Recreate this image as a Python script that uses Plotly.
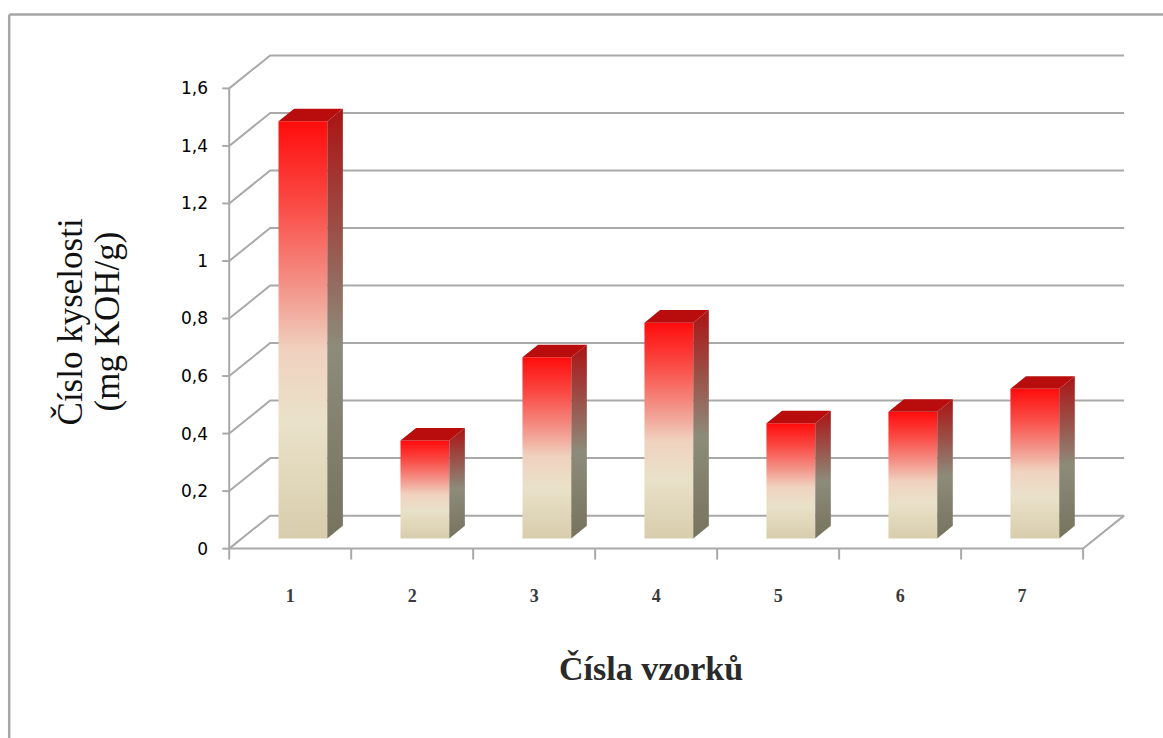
import plotly.graph_objects as go

# ---- data -------------------------------------------------------------
samples = ["1", "2", "3", "4", "5", "6", "7"]
acid_number = [1.45, 0.34, 0.63, 0.75, 0.40, 0.44, 0.52]
y_ticks = [0, 0.2, 0.4, 0.6, 0.8, 1.0, 1.2, 1.4, 1.6]
y_ticktext = ["0", "0,2", "0,4", "0,6", "0,8", "1", "1,2", "1,4", "1,6"]

y_title_lines = ["Číslo kyselosti", "(mg KOH/g)"]
x_title = "Čísla vzorků"

# ---- oblique projection of the 3-D box (axis units) ------------------
DEPTH_X = 0.336      # horizontal shift of the back wall
DEPTH_Y = 0.1147     # vertical shift of the back wall
BAR_W = 0.40         # bar width as share of a category
BAR_FRONT = 0.31     # depth fraction where bar front faces sit
BAR_DEPTH = 0.38     # depth fraction occupied by a bar

GRID = "#a9a9a9"
FRONT_SCALE = [[0.0, "#d8cdac"], [0.28, "#e9e1c9"], [0.45, "#f0d2bf"],
               [0.6, "#f3958a"], [0.8, "#fa4b45"], [1.0, "#ff0c0c"]]
SIDE_SCALE = [[0.0, "#76735e"], [0.45, "#8d8b7a"], [0.72, "#9b4f47"],
              [1.0, "#aa1414"]]
TOP_COLOR = "#b90d0d"

n = len(samples)
ymax = y_ticks[-1]

# ---- canvas geometry ----------------------------------------------------
W, H = 1163, 738
X_RANGE = [-0.1, 7.45]
Y_RANGE = [-0.05, 1.73]
PX_X = 122.0
PX_Y = 287.8
M_L = 229 - (0 - X_RANGE[0]) * PX_X
M_T = 548.5 - Y_RANGE[1] * PX_Y
PLOT_W = (X_RANGE[1] - X_RANGE[0]) * PX_X
PLOT_H = (Y_RANGE[1] - Y_RANGE[0]) * PX_Y
M_R = W - M_L - PLOT_W
M_B = H - M_T - PLOT_H


def paper_x(px):
    return (px - M_L) / PLOT_W


def paper_y(py):
    return (M_T + PLOT_H - py) / PLOT_H


fig = go.Figure()


def add_line(xs, ys, color=GRID, width=2):
    fig.add_trace(go.Scatter(x=xs, y=ys, mode="lines",
                             line=dict(color=color, width=width),
                             hoverinfo="skip", showlegend=False))


# back wall and left wall gridlines
for v in y_ticks:
    add_line([0, DEPTH_X, n + DEPTH_X], [v, v + DEPTH_Y, v + DEPTH_Y])
# floor outline
add_line([n + DEPTH_X, n, 0], [DEPTH_Y, 0, 0])
# front value axis
add_line([0, 0], [0, ymax])
# value-axis tick marks
for v in y_ticks:
    add_line([-0.057, 0], [v, v])
# category-axis tick marks
for k in range(n + 1):
    add_line([k, k], [0, -0.038])

# ---- 3-D bars -----------------------------------------------------------
ox = BAR_DEPTH * DEPTH_X
oy = BAR_DEPTH * DEPTH_Y
for i, v in enumerate(acid_number):
    c = i + 0.5
    x0 = c - BAR_W / 2 + BAR_FRONT * DEPTH_X
    x1 = c + BAR_W / 2 + BAR_FRONT * DEPTH_X
    yb = BAR_FRONT * DEPTH_Y
    yt = yb + v
    no_line = dict(width=0, color="rgba(0,0,0,0)")
    # front face
    fig.add_trace(go.Scatter(
        x=[x0, x1, x1, x0, x0], y=[yb, yb, yt, yt, yb],
        mode="lines", fill="toself", line=no_line,
        fillgradient=dict(type="vertical", colorscale=FRONT_SCALE,
                          start=yb, stop=yt),
        hoverinfo="skip", showlegend=False))
    # right side face
    fig.add_trace(go.Scatter(
        x=[x1, x1 + ox, x1 + ox, x1, x1],
        y=[yb, yb + oy, yt + oy, yt, yb],
        mode="lines", fill="toself", line=no_line,
        fillgradient=dict(type="vertical", colorscale=SIDE_SCALE,
                          start=yb, stop=yt + oy),
        hoverinfo="skip", showlegend=False))
    # top face
    fig.add_trace(go.Scatter(
        x=[x0, x1, x1 + ox, x0 + ox, x0],
        y=[yt, yt, yt + oy, yt + oy, yt],
        mode="lines", fill="toself", line=no_line,
        fillcolor=TOP_COLOR, hoverinfo="skip", showlegend=False))

# ---- layout -------------------------------------------------------------
fig.update_layout(
    width=W, height=H,
    margin=dict(l=M_L, r=M_R, t=M_T, b=M_B, pad=0),
    paper_bgcolor="white", plot_bgcolor="white",
    showlegend=False,
    xaxis=dict(range=X_RANGE, showgrid=False, zeroline=False, showline=False,
               tickmode="array", tickvals=[i + 0.5 for i in range(n)],
               ticktext=samples, ticks="", ticklabelstandoff=20,
               tickfont=dict(family="Liberation Serif", size=18,
                             color="#3a3a3a", weight="bold")),
    yaxis=dict(range=Y_RANGE, showgrid=False, zeroline=False, showline=False,
               tickmode="array", tickvals=y_ticks, ticktext=y_ticktext,
               ticks="", ticklabelstandoff=8,
               tickfont=dict(family="DejaVu Sans", size=17,
                             color="#000000")),
    shapes=[
        dict(type="line", xref="paper", yref="paper",
             x0=paper_x(9), x1=paper_x(1163), y0=paper_y(14), y1=paper_y(14),
             line=dict(color="#a6a6a6", width=2.5)),
        dict(type="line", xref="paper", yref="paper",
             x0=paper_x(9), x1=paper_x(9), y0=paper_y(14), y1=paper_y(738),
             line=dict(color="#a6a6a6", width=2.5)),
    ],
    annotations=[
        dict(text=y_title_lines[0], xref="paper", yref="paper",
             x=paper_x(70), y=paper_y(322), xanchor="center", yanchor="middle",
             textangle=-90, showarrow=False,
             font=dict(family="Liberation Serif", size=35, color="#111")),
        dict(text=y_title_lines[1], xref="paper", yref="paper",
             x=paper_x(107), y=paper_y(321), xanchor="center", yanchor="middle",
             textangle=-90, showarrow=False,
             font=dict(family="Liberation Serif", size=35, color="#111")),
        dict(text=x_title, xref="paper", yref="paper",
             x=paper_x(651), y=paper_y(668), xanchor="center", yanchor="middle",
             showarrow=False,
             font=dict(family="Liberation Serif", size=34, color="#2a2a2a",
                       weight="bold")),
    ],
)

fig.write_html("out.html")
